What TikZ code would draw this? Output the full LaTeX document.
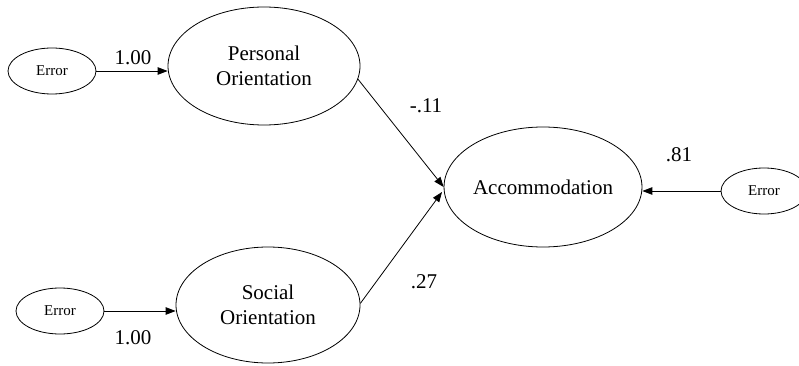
\documentclass[tikz,border=0pt]{standalone}
\usepackage{fontspec}
\setmainfont{Liberation Serif}
\usetikzlibrary{shapes.geometric,arrows.meta}
\begin{document}
\begin{tikzpicture}[x=1pt,y=-1pt,
  bigell/.style={ellipse,draw,line width=0.8pt,inner sep=0pt,align=center,font=\fontsize{21}{25}\selectfont},
  errell/.style={ellipse,draw,line width=0.8pt,inner sep=0pt,minimum width=88pt,minimum height=46pt,font=\fontsize{15}{18}\selectfont},
  path/.style={line width=0.8pt,-{Triangle[length=10pt,width=7.5pt]}},
  coef/.style={font=\fontsize{21}{25}\selectfont,inner sep=0pt}]
\useasboundingbox (0,0) rectangle (799,366);
\begin{scope}
\clip (0,0) rectangle (799,366);
\node[errell] (e1) at (52,71) {Error};
\node[bigell,minimum width=192pt,minimum height=118pt] (po) at (264,66) {Personal\\Orientation};
\node[errell] (e2) at (60,311) {Error};
\node[bigell,minimum width=184pt,minimum height=116pt] (so) at (268,305) {Social\\Orientation};
\node[bigell,minimum width=188pt,minimum height=120pt] (acc) at (543,187) {Accommodation};
\node[errell,minimum width=86pt] (e3) at (764,191) {Error};
\coordinate (t2) at (442,192);
\draw[path] (e1.east) -- (e1.east -| po.west);
\draw[path] (e2.east) -- (e2.east -| so.west);
\draw[path] (e3.west) -- (e3.west -| acc.east);
\draw[path] (po.-8) -- (acc.180);
\draw[path] (so.1) -- (t2);
\node[coef] (c1) at (133,58) {1.00};
\node[coef] (c2) at (133,338) {1.00};
\node[coef] (c3) at (426,106) {-.11};
\node[coef] (c4) at (424,282) {.27};
\node[coef] (c5) at (679,155) {.81};
\end{scope}
\end{tikzpicture}
\end{document}
